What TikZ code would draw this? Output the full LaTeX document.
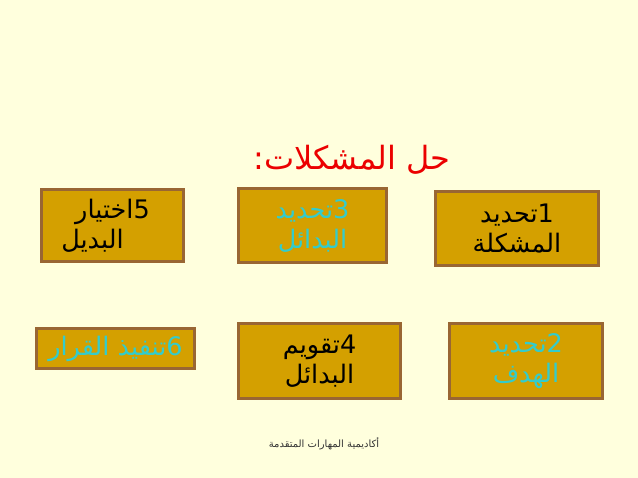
\documentclass[tikz,border=0pt]{standalone}
\usepackage{fontspec}
\TeXXeTstate=1
\newfontfamily\arabicfont[Script=Arabic]{DejaVu Sans}
\definecolor{bgcol}{RGB}{255,255,221}
\definecolor{boxfill}{RGB}{212,160,0}
\definecolor{boxline}{RGB}{153,102,51}
\definecolor{turq}{RGB}{51,204,204}
\definecolor{titlered}{RGB}{235,0,0}
\begin{document}
\begin{tikzpicture}[x=1pt,y=-1pt,
  stepbox/.style={draw=boxline, line width=3pt, fill=boxfill, inner sep=0pt, align=center,
    font=\arabicfont\fontsize{25.5}{30}\selectfont},
  darktext/.style={text=black},
  lighttext/.style={text=turq}]
\fill[bgcol] (0,0) rectangle (638,478);
\useasboundingbox (0,0) rectangle (638,478);
\node[anchor=base, text=titlered, font=\arabicfont\fontsize{32}{36}\selectfont] (title) at (352,170)
  {\beginR حل المشكلات\kern0pt:\endR};
\node[stepbox, darktext, minimum width=142pt, minimum height=72pt] (s5) at (112.5,225.5)
  {\beginR 5\kern0pt اختيار\endR\\\beginR البديل\endR\hspace*{40pt}};
\node[stepbox, lighttext, minimum width=148pt, minimum height=74pt] (s3) at (312.5,225.5)
  {\beginR 3\kern0pt تحديد\endR\\\beginR البدائل\endR};
\node[stepbox, darktext, minimum width=163pt, minimum height=74pt] (s1) at (517,228.5)
  {\beginR 1\kern0pt تحديد\endR\\\beginR المشكلة\endR};
\node[stepbox, lighttext, minimum width=158pt, minimum height=40pt] (s6) at (115.5,348.5)
  {\beginR 6\kern0pt تنفيذ القرار\endR};
\node[stepbox, darktext, minimum width=162pt, minimum height=75pt] (s4) at (319.5,361)
  {\beginR 4\kern0pt تقويم\endR\\\beginR البدائل\endR};
\node[stepbox, lighttext, minimum width=153pt, minimum height=75pt] (s2) at (526,361)
  {\beginR 2\kern0pt تحديد\endR\\\beginR الهدف\endR};
\node[anchor=base, text={black!80}, font=\arabicfont\fontsize{10}{12}\selectfont] (footer) at (324,448)
  {\beginR أكاديمية المهارات المتقدمة\endR};
\end{tikzpicture}
\end{document}
